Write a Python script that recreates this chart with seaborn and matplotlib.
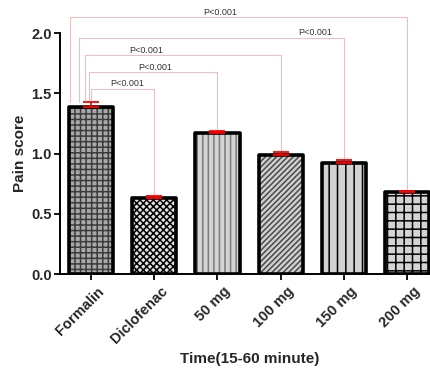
import numpy as np
import pandas as pd
import matplotlib
matplotlib.use("Agg")
import matplotlib.pyplot as plt
import matplotlib.transforms as mtransforms
from matplotlib.patches import Rectangle
import seaborn as sns

# ── Data ─────────────────────────────────────────────────────────
groups = ["Formalin", "Diclofenac", "50 mg", "100 mg", "150 mg", "200 mg"]
pain_score = [1.39, 0.63, 1.17, 0.99, 0.92, 0.68]
sem = [0.035, 0.015, 0.02, 0.02, 0.025, 0.01]

# comparisons against Formalin: (target group, bracket height, label)
comparisons = [
    ("Diclofenac", 1.535, "P<0.001"),
    ("50 mg", 1.675, "P<0.001"),
    ("100 mg", 1.815, "P<0.001"),
    ("150 mg", 1.96, "P<0.001"),
    ("200 mg", 2.13, "P<0.001"),
]

# ── Style ────────────────────────────────────────────────────────
sns.set_theme(style="ticks")
plt.rcParams.update({
    "font.family": ["Liberation Sans", "DejaVu Sans"],
    "hatch.linewidth": 1.1,
})

face_colors = ["#a8a8a8", "#e0e0e0", "#d4d4d4", "#cfcfcf", "#d2d2d2", "#d4d4d4"]
hatch_colors = ["#3c3c3c", "#000000", "#7a7a7a", "#4a4a4a", "#000000", "#000000"]
hatches = ["+++", "xxxxx", "|||", "//////", "||", "++"]

df = pd.DataFrame({"group": groups, "score": pain_score})

fig = plt.figure(figsize=(4.3, 3.68), dpi=100)
ax = fig.add_axes([0.1395, 0.2554, 0.8605, 0.6549])

sns.barplot(data=df, x="group", y="score", order=groups, width=0.7,
            errorbar=None, ax=ax, linewidth=0)

for patch, fc, hc, h in zip(ax.patches, face_colors, hatch_colors, hatches):
    patch.set_facecolor(fc)
    patch.set_edgecolor(hc)
    patch.set_hatch(h)
    patch.set_linewidth(0)
    outline = Rectangle(patch.get_xy(), patch.get_width(), patch.get_height(),
                        fill=False, edgecolor="black", linewidth=2.6,
                        joinstyle="round", zorder=3)
    ax.add_patch(outline)

# upper error bars only
xpos = np.arange(len(groups))
ax.errorbar(xpos, pain_score, yerr=[np.zeros(len(sem)), sem], fmt="none",
            ecolor="red", elinewidth=1.2, capsize=5.5, capthick=1.3, zorder=4)

# significance brackets
top = np.array(pain_score) + np.array(sem)
left_offsets = [0.0, -0.03, -0.095, -0.19, -0.33]
text_x = [0.57, 1.01, 0.88, 3.55, 2.05]
line_kw = dict(color="#ffb6b6", linewidth=0.7, clip_on=False, zorder=1)
for (target, h, label), dx, tx in zip(comparisons, left_offsets, text_x):
    j = groups.index(target)
    x0 = 0 + dx
    x1 = j
    ax.plot([x0, x0, x1, x1], [top[0], h, h, top[j]], **line_kw)
    ax.text(tx, h + 0.005, label, ha="center", va="bottom",
            fontsize=6.5, color="#333333", clip_on=False)

ax.set_ylim(0, 2.0)
ax.set_xlim(-0.49, 5.36)
ax.tick_params(axis="both", length=4, width=1.3, color="black", pad=2)
ax.set_yticks([0.0, 0.5, 1.0, 1.5, 2.0])
ax.set_yticklabels(["0.0", "0.5", "1.0", "1.5", "2.0"])
for lbl in ax.get_yticklabels():
    lbl.set_fontweight("bold")
    lbl.set_fontsize(10.5)
ax.set_xticks(xpos)
ax.set_xticklabels(groups, rotation=45, ha="right", va="top",
                   rotation_mode="anchor", fontsize=10.5, fontweight="bold")
shift = mtransforms.ScaledTranslation(0.06, -0.02, fig.dpi_scale_trans)
for lbl in ax.get_xticklabels():
    lbl.set_transform(lbl.get_transform() + shift)

ax.set_xlabel("Time(15-60 minute)", fontsize=11, fontweight="bold")
ax.xaxis.set_label_coords(0.513, -0.325)
ax.set_ylabel("Pain score", fontsize=11, fontweight="bold", labelpad=3)

sns.despine(ax=ax)
for side in ["left", "bottom"]:
    ax.spines[side].set_linewidth(1.4)
    ax.spines[side].set_color("black")

fig.savefig("out.png", dpi=100)
plt.close()
